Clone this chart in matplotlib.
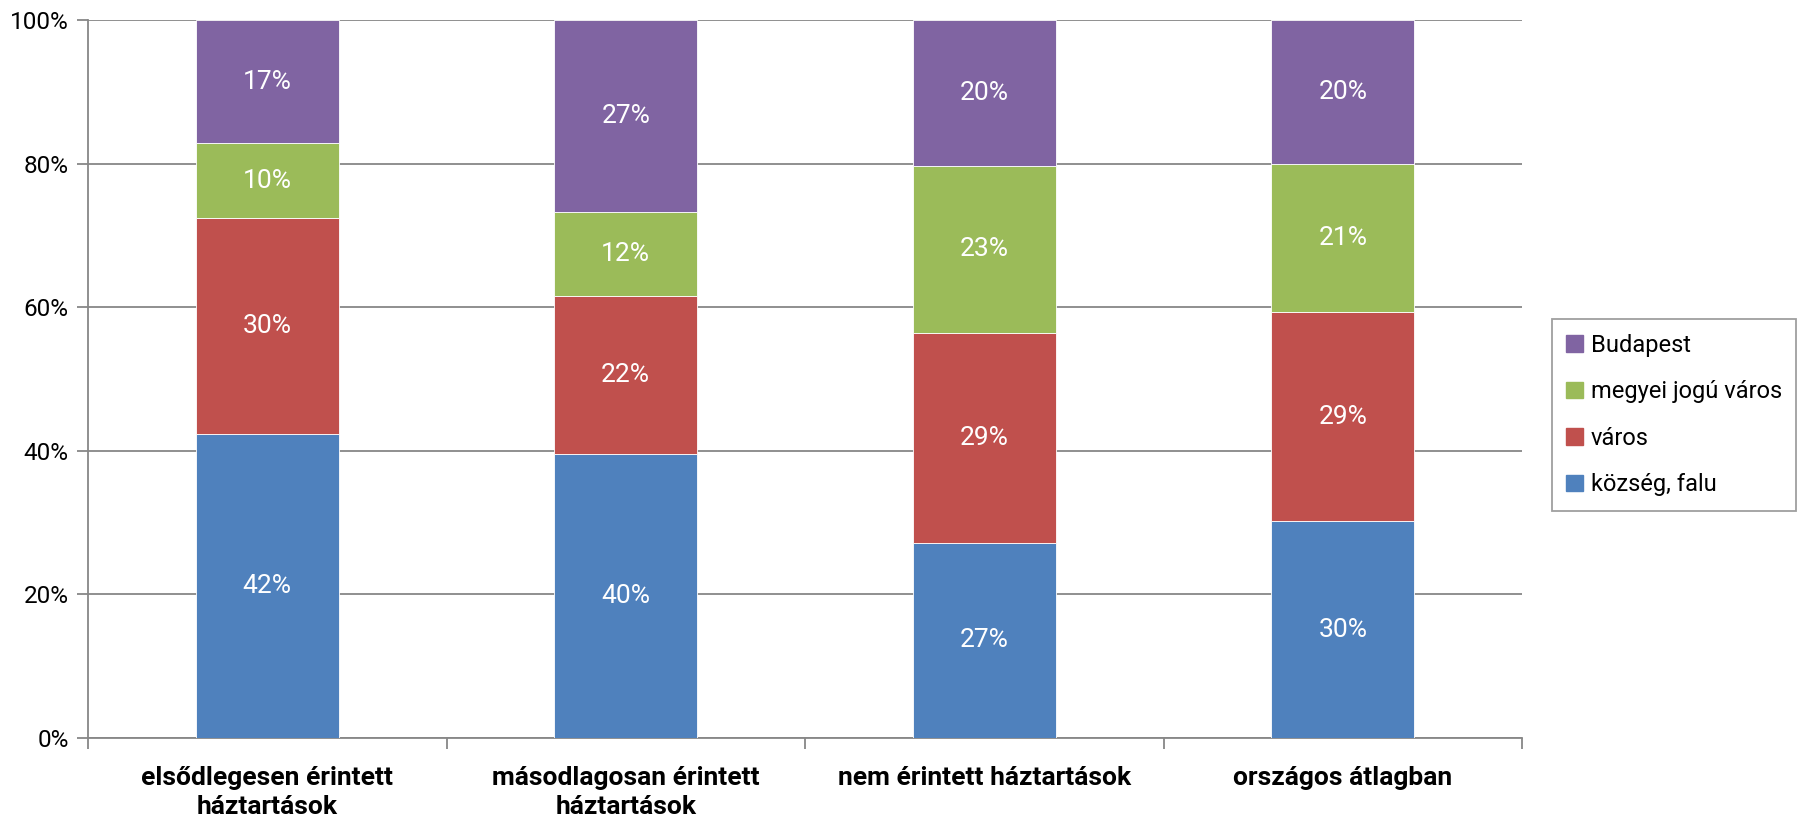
import numpy as np
import matplotlib.pyplot as plt
from matplotlib.patches import Patch

categories = ["elsődlegesen érintett\nháztartások", "másodlagosan érintett\nháztartások",
              "nem érintett háztartások", "országos átlagban"]
series = ["község, falu", "város", "megyei jogú város", "Budapest"]
kozseg = [42.3, 39.6, 27.2, 30.2]
varos = [30.1, 22.0, 29.2, 29.1]
megyei = [10.4, 11.7, 23.3, 20.6]
budapest = [17.2, 26.7, 20.3, 20.1]
colors = ["#4F81BD", "#C0504D", "#9BBB59", "#8064A2"]

plt.rcParams["font.family"] = ["Roboto", "DejaVu Sans"]

fig = plt.figure(figsize=(18.12, 8.19), dpi=100)
ax = fig.add_axes([88 / 1812, 81 / 819, 1434 / 1812, 718 / 819])

x = np.arange(len(categories))
bottom = np.zeros(len(categories))
for name, vals, c in zip(series, [kozseg, varos, megyei, budapest], colors):
    vals = np.array(vals)
    ax.bar(x, vals, 0.4, bottom=bottom, color=c, edgecolor="white", linewidth=0.6, label=name, zorder=3)
    for xi, b, v in zip(x, bottom, vals):
        ax.text(xi, b + v / 2, f"{v:.0f}%", ha="center", va="center", color="white", fontsize=19, zorder=4)
    bottom += vals

ax.set_xlim(-0.5, len(categories) - 0.5)
ax.set_ylim(0, 100)
ax.set_yticks(np.arange(0, 101, 20))
ax.set_yticklabels([f"{v}%" for v in range(0, 101, 20)], fontsize=17.5)
ax.yaxis.grid(True, color="#878787", linewidth=1.3, zorder=0)
ax.set_xticks(x)
ax.set_xticklabels(categories, fontsize=19, fontweight="bold", linespacing=1.25)
ax.set_xticks(np.arange(-0.5, len(categories)), minor=True)
ax.tick_params(axis="x", which="major", length=0, pad=20)
ax.tick_params(axis="x", which="minor", length=8, color="#878787", width=1.3, direction="out")
ax.tick_params(axis="y", length=8, color="#878787", width=1.3, pad=6)
for s in ["top", "right"]:
    ax.spines[s].set_visible(False)
for s in ["left", "bottom"]:
    ax.spines[s].set_color("#878787")
    ax.spines[s].set_linewidth(1.3)

handles = [Patch(color=c, label=n) for n, c in zip(series, colors)][::-1]
leg = ax.legend(handles=handles, loc="center left", bbox_to_anchor=(1552 / 1812, 1 - 415 / 819),
                bbox_transform=fig.transFigure, fontsize=17, frameon=True, fancybox=False,
                handlelength=0.7, handleheight=0.7, handletextpad=0.35, labelspacing=1.0,
                borderpad=0.6, borderaxespad=0)
leg.get_frame().set_edgecolor("#878787")
leg.get_frame().set_linewidth(1.3)

fig.savefig("out.png", dpi=100)
